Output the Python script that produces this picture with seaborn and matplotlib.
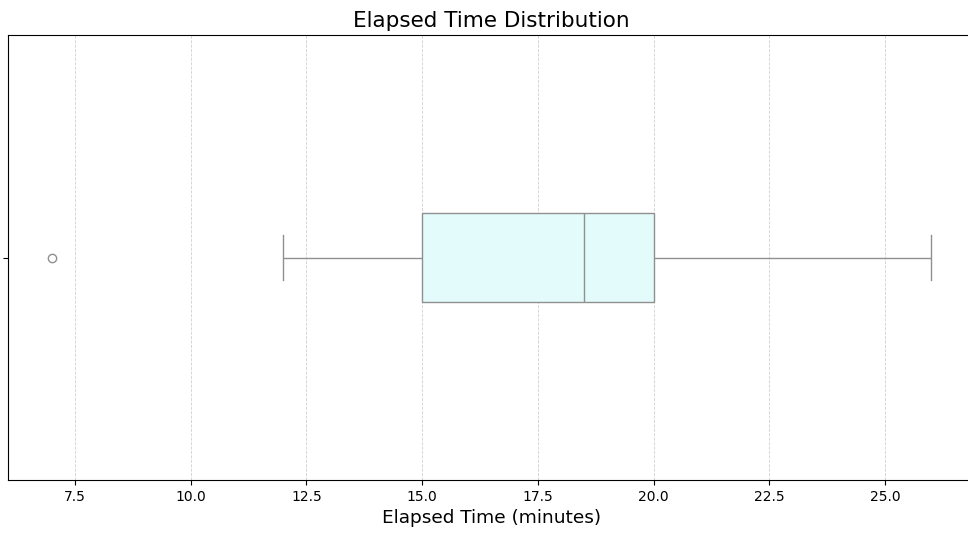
import matplotlib
matplotlib.use("Agg")
import matplotlib.pyplot as plt
import seaborn as sns
import pandas as pd

elapsed_minutes = [7, 12, 15, 16, 18.5, 19, 20, 22, 26]

df = pd.DataFrame({"Elapsed Time (minutes)": elapsed_minutes})

fig = plt.figure(figsize=(9.68, 5.36), dpi=100)
ax = fig.add_axes([0.0082, 0.1045, 0.9994, 0.830])
ax.set_axisbelow(True)
ax.grid(axis="x", linestyle="--", linewidth=0.6, color="#d0d0d0")
sns.boxplot(data=df, x="Elapsed Time (minutes)", color="lightcyan", width=0.2, ax=ax)
ax.set_title("Elapsed Time Distribution", fontsize=15.5)
ax.set_xlabel("Elapsed Time (minutes)", fontsize=13.3)
ax.set_ylabel("")
fig.savefig("out.png", dpi=100)
